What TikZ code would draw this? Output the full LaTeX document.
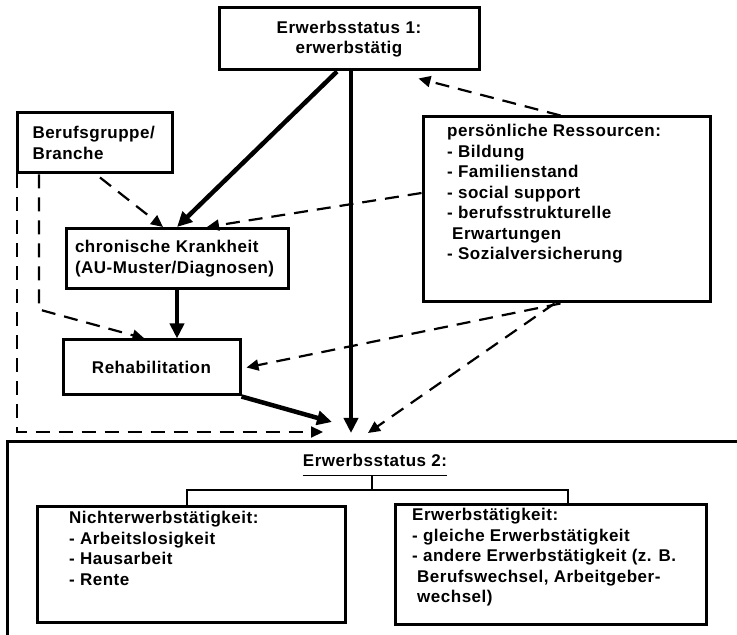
\documentclass[tikz,border=0pt]{standalone}
\usepackage{fontspec}
\setmainfont{Liberation Sans}[LetterSpace=3]
\usetikzlibrary{arrows.meta}

\tikzset{
  every node/.style={font=\bfseries\fontsize{17pt}{20.5pt}\selectfont},
  kasten/.style={draw, line width=3pt, inner ysep=0pt, align=left},
  liste/.style={anchor=north west, inner sep=0pt, align=left},
  fett/.style={line width=4.5pt, -{Triangle[length=15pt,width=14pt]}},
  strich/.style={line width=2.2pt, dash pattern=on 14pt off 9pt, -{Triangle[length=12pt,width=11pt]}},
  duenn/.style={line width=1.5pt}
}

\begin{document}
\begin{tikzpicture}[x=1pt,y=1pt] % 1 unit = 1 pixel of the sketch
\useasboundingbox (0,0) rectangle (737,635);

\node [kasten, align=center, text width=230pt, inner xsep=15pt, minimum height=62pt] (status1) at (349,596) {Erwerbsstatus 1:\\erwerbstätig};
\node [kasten, text width=125pt, inner xsep=15pt, minimum height=60pt] (beruf) at (95,492) {Berufsgruppe/\\Branche};
\node [kasten, text width=204pt, inner xsep=9pt, minimum height=60pt] (krank) at (177,376.5) {chronische Krankheit\\(AU-Muster/Diagnosen)};
\node [kasten, align=center, text width=147pt, inner xsep=15pt, minimum height=55pt] (reha) at (151.5,267.5) {Rehabilitation};

\node [kasten, minimum width=287pt, minimum height=185pt] (ress) at (566.5,425.5) {};
\node [liste] (ress text) at (447,511) {persönliche Ressourcen:\\- Bildung\\- Familienstand\\- social support\\- berufsstrukturelle\\\hspace{5pt}Erwartungen\\- Sozialversicherung};

% Erwerbsstatus 2 frame, open to the right and below
\draw [line width=3pt] (7,-2) -- (7,193) -- (740,193);
\node [inner sep=0pt] (status2) at (375,175) {Erwerbsstatus 2:};
\draw [duenn] ([yshift=-9pt]status2.south west) -- ([yshift=-9pt]status2.south east);
\coordinate (gabel) at (372,145);
\draw [duenn] (gabel) -- ++(0,15);

\node [kasten, minimum width=308pt, minimum height=116pt] (nicht) at (191,70) {};
\node [liste] (nicht text) at (69,124) {Nichterwerbstätigkeit:\\- Arbeitslosigkeit\\- Hausarbeit\\- Rente};
\node [kasten, minimum width=311pt, minimum height=120pt] (erw) at (550.5,70) {};
\node [liste] (erw text) at (412,127) {Erwerbstätigkeit:\\- gleiche Erwerbstätigkeit\\- andere Erwerbstätigkeit (z. B.\\\hspace{5pt}Berufswechsel, Arbeitgeber-\\\hspace{5pt}wechsel)};
\draw [duenn] ([xshift=-4pt]nicht.north) |- (gabel) -| ([xshift=17.5pt]erw.north);

% arrow ends above the frame
\coordinate (ein beruf) at (323,203);
\coordinate (ein reha) at (332,213);
\coordinate (ein status1) at (351,202);
\coordinate (ein ress) at (368,202);

\draw [fett] ([xshift=-12pt]status1.south) -- (krank.north);
\draw [fett] ([xshift=2pt]status1.south) -- (ein status1);
\draw [fett] (krank.south) -- (krank.south |- reha.north);
\draw [fett] (reha.south east) -- (ein reha);

\draw [strich] ([xshift=5pt,yshift=-3pt]beruf.south) -- ([xshift=-14pt]krank.north);
\draw [strich] ([yshift=16.5pt]ress.west) -- ([xshift=30pt]krank.north);
\draw [strich] ([xshift=-6pt]ress.north) -- ([xshift=-62pt,yshift=-7pt]status1.south east);
\draw [strich] ([xshift=-6pt]ress.south) -- ([xshift=5pt]reha.east);
\draw [strich] ([xshift=-12pt]ress.south) -- (ein ress);
\draw [strich] ([xshift=23pt]beruf.south west) -- ++(0,-135) -- ([xshift=-7pt]reha.north);
\draw [strich] ([xshift=1pt]beruf.south west) |- (ein beruf); % outer dashed line round the left side
\end{tikzpicture}
\end{document}
